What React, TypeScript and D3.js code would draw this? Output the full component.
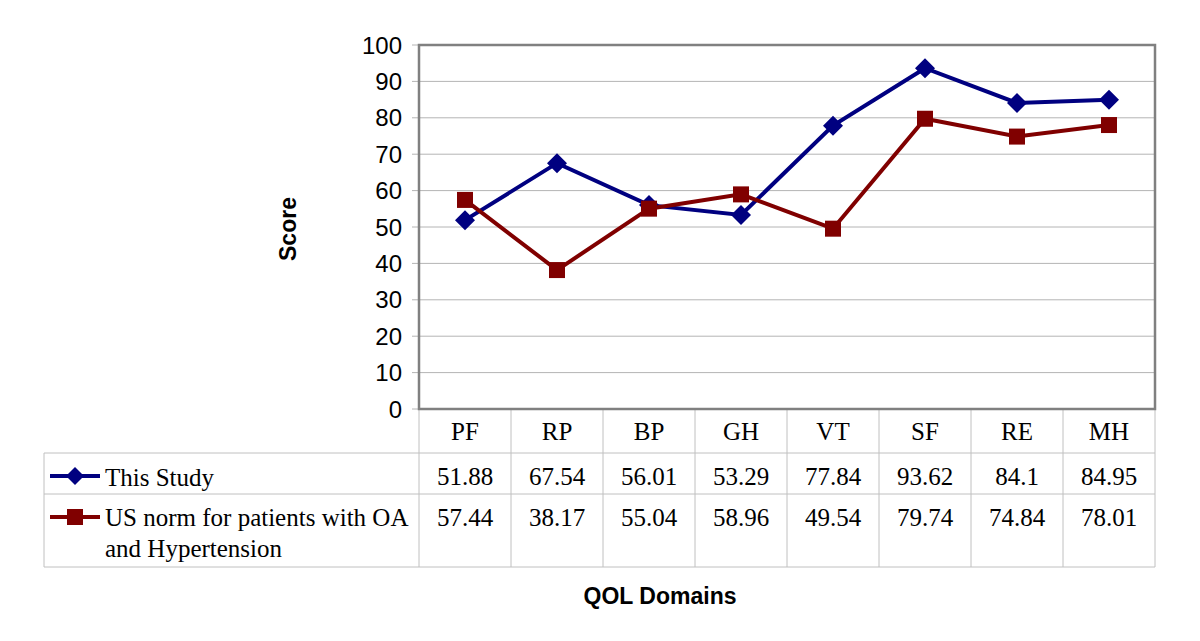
import React from 'react';
import * as d3 from 'd3';

const domains = ['PF', 'RP', 'BP', 'GH', 'VT', 'SF', 'RE', 'MH'];
const thisStudy = [51.88, 67.54, 56.01, 53.29, 77.84, 93.62, 84.1, 84.95];
const usNorm = [57.44, 38.17, 55.04, 58.96, 49.54, 79.74, 74.84, 78.01];
const yTicks = [0, 10, 20, 30, 40, 50, 60, 70, 80, 90, 100];

const blue = '#000080';
const red = '#800000';

export default function App() {
  const W = 1200, H = 641;
  const left = 419, right = 1155, top = 45, bottom = 409;
  const tableLeft = 44, row1 = 453, row2 = 494, tableBottom = 567;

  const x = d3.scaleBand<string>().domain(domains).range([left, right]);
  const y = d3.scaleLinear().domain([0, 100]).range([bottom, top]);
  const cx = (d: string) => (x(d) as number) + x.bandwidth() / 2;

  const line = d3.line<number>()
    .x((_, i) => cx(domains[i]))
    .y(v => y(v));

  const diamond = (px: number, py: number, r = 10) =>
    `M${px},${py - r}L${px + r},${py}L${px},${py + r}L${px - r},${py}Z`;

  return (
    <svg width={W} height={H} style={{ position: 'absolute', left: 0, top: 0, background: '#fff' }}>
      {/* gridlines */}
      {yTicks.map(t => (
        <g key={t}>
          <line x1={left - 7} x2={right} y1={y(t)} y2={y(t)} stroke="#b4b4b4" strokeWidth={1} />
          <text x={402} y={y(t)} dy="0.36em" textAnchor="end"
            fontFamily="Liberation Sans, Arial" fontSize={24}>{t}</text>
        </g>
      ))}
      {/* table grid */}
      <g stroke="#c0c0c0" strokeWidth={1}>
        <line x1={tableLeft} x2={right} y1={row1} y2={row1} />
        <line x1={tableLeft} x2={right} y1={row2} y2={row2} />
        <line x1={tableLeft} x2={right} y1={tableBottom} y2={tableBottom} />
        <line x1={tableLeft} x2={tableLeft} y1={row1} y2={tableBottom} />
        {domains.map((d, i) => i > 0 && (
          <line key={d} x1={x(d)} x2={x(d)} y1={bottom} y2={tableBottom} />
        ))}
        <line x1={right} x2={right} y1={bottom} y2={tableBottom} />
        <line x1={left} x2={left} y1={bottom} y2={tableBottom} />
      </g>
      {/* plot frame */}
      <rect x={left} y={top} width={right - left} height={bottom - top}
        fill="none" stroke="#808080" strokeWidth={2.5} />

      {/* series */}
      <path d={line(thisStudy) || ''} fill="none" stroke={blue} strokeWidth={4} />
      {thisStudy.map((v, i) => (
        <path key={i} d={diamond(cx(domains[i]), y(v))} fill={blue} />
      ))}
      <path d={line(usNorm) || ''} fill="none" stroke={red} strokeWidth={4} />
      {usNorm.map((v, i) => (
        <rect key={i} x={cx(domains[i]) - 8} y={y(v) - 8} width={16} height={16} fill={red} />
      ))}

      {/* table text */}
      <g fontFamily="Liberation Serif, Times New Roman" fontSize={25} textAnchor="middle">
        {domains.map(d => (
          <text key={d} x={cx(d)} y={440}>{d}</text>
        ))}
        {thisStudy.map((v, i) => (
          <text key={'a' + i} x={cx(domains[i])} y={485}>{v}</text>
        ))}
        {usNorm.map((v, i) => (
          <text key={'b' + i} x={cx(domains[i])} y={526}>{v}</text>
        ))}
      </g>
      {/* legend in table */}
      <line x1={50} x2={100} y1={476} y2={476} stroke={blue} strokeWidth={4} />
      <path d={diamond(75, 476, 9)} fill={blue} />
      <line x1={50} x2={100} y1={517} y2={517} stroke={red} strokeWidth={4} />
      <rect x={67} y={509} width={16} height={16} fill={red} />
      <g fontFamily="Liberation Serif, Times New Roman" fontSize={25}>
        <text x={105} y={486}>This Study</text>
        <text x={105} y={526}>US norm for patients with OA</text>
        <text x={105} y={557}>and Hypertension</text>
      </g>

      {/* axis titles */}
      <text transform="translate(296,229) rotate(-90)" textAnchor="middle"
        fontFamily="Liberation Sans, Arial" fontWeight="bold" fontSize={23}>Score</text>
      <text x={660} y={604} textAnchor="middle"
        fontFamily="Liberation Sans, Arial" fontWeight="bold" fontSize={23}>QOL Domains</text>
    </svg>
  );
}
